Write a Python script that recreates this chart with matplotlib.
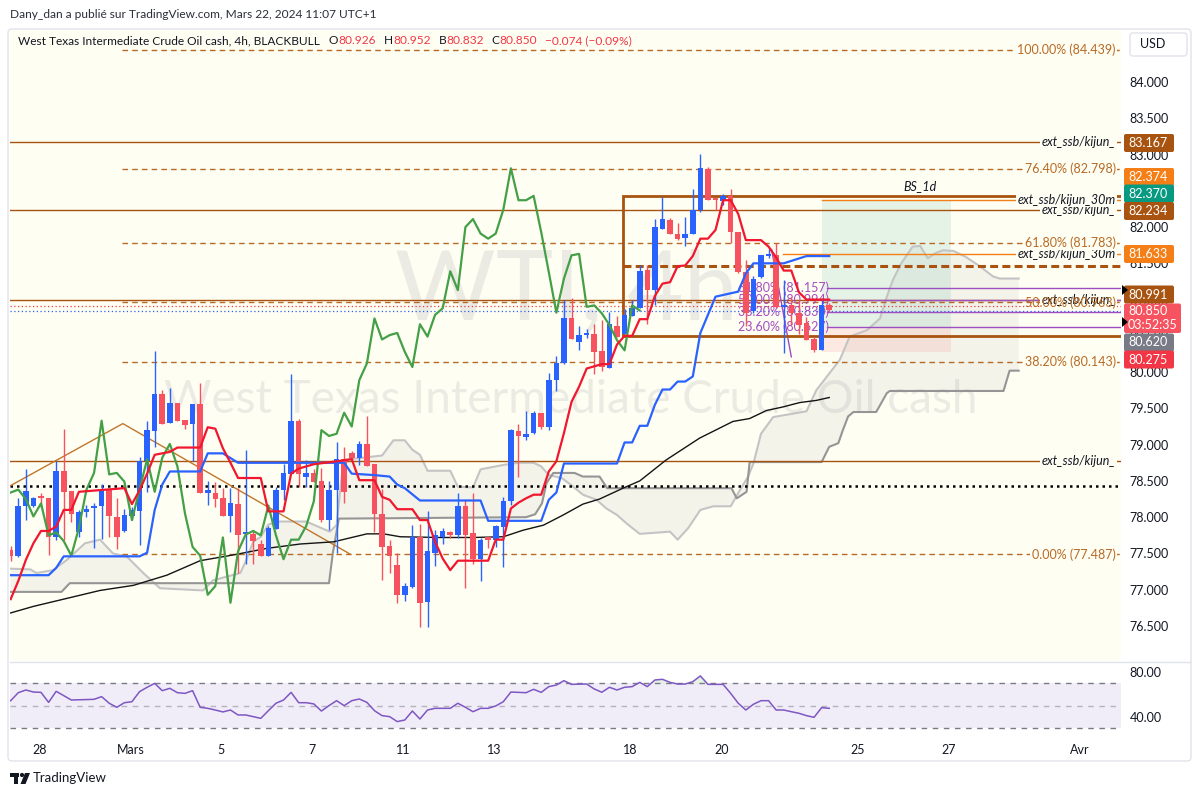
import numpy as np
import matplotlib
matplotlib.use('Agg')
import matplotlib.pyplot as plt
from matplotlib.patches import FancyBboxPatch, Rectangle, Polygon, Circle
from matplotlib.transforms import IdentityTransform

plt.rcParams['font.family'] = ['Lato', 'DejaVu Sans']

# ---------------- data (4h bars, index 0 = first visible bar) ----------------
opens = [77.55, 77.46, 78.16, 78.16, 78.29, 78.26, 77.72, 78.64, 78.36, 77.80,
         78.07, 78.12, 78.15, 78.38, 78.00, 77.81, 78.02, 78.09, 78.77, 79.19,
         79.70, 79.30, 79.57, 79.34, 79.28, 79.56, 78.34, 78.33, 78.26, 78.01,
         78.18, 77.77, 77.77, 77.63, 77.47, 77.84, 78.37, 78.59, 79.33, 78.56,
         78.61, 78.50, 77.96, 78.37, 78.80, 78.88, 78.82, 79.01, 78.73, 78.05,
         77.60, 77.34, 76.93, 77.04, 77.72, 76.83, 77.51, 77.72, 77.79, 77.75,
         78.16, 77.78, 77.42, 77.72, 77.69, 77.87, 78.22, 79.19, 79.11, 79.16,
         79.44, 79.25, 79.89, 80.12, 80.74, 80.42, 80.51, 80.53, 80.29, 80.05,
         80.64, 80.53, 80.77, 80.89, 81.41, 81.13, 81.98, 82.10, 81.91, 81.85,
         81.91, 82.23, 82.80, 82.40, 82.36, 82.43, 81.93, 81.38, 80.84, 81.31,
         81.60, 81.61, 80.90, 80.92, 80.82, 80.68, 80.45, 80.30, 80.926]
highs = [77.60, 78.26, 78.66, 78.28, 78.33, 78.26, 78.78, 79.22, 78.36, 78.10,
         78.17, 78.19, 78.46, 78.38, 78.26, 78.11, 78.14, 78.83, 79.32, 80.29,
         79.76, 79.78, 79.57, 79.34, 79.56, 79.85, 78.50, 78.48, 78.40, 78.40,
         78.40, 78.93, 77.82, 77.69, 77.88, 78.41, 78.74, 79.98, 79.35, 78.79,
         78.66, 78.68, 78.50, 79.04, 78.97, 78.91, 79.05, 79.40, 78.73, 78.39,
         77.69, 77.50, 77.09, 77.89, 77.90, 78.09, 77.83, 77.85, 77.81, 78.33,
         78.24, 78.33, 77.71, 77.74, 77.89, 78.28, 79.22, 79.28, 79.46, 79.46,
         79.44, 79.99, 80.22, 81.00, 81.02, 80.63, 80.60, 80.67, 80.72, 80.83,
         80.77, 80.87, 81.00, 81.48, 81.48, 82.11, 82.42, 82.12, 82.05, 82.14,
         82.53, 83.01, 82.83, 82.40, 82.46, 82.53, 81.93, 81.55, 81.32, 81.61,
         81.70, 81.78, 81.27, 81.04, 80.99, 80.76, 80.49, 81.02, 80.952]
lows = [77.40, 77.45, 77.96, 78.14, 78.14, 77.48, 77.69, 77.69, 77.94, 77.72,
        78.00, 77.58, 77.70, 77.72, 77.56, 77.79, 77.96, 77.62, 78.35, 78.97,
        79.28, 79.30, 79.32, 79.22, 78.77, 78.34, 78.17, 78.14, 78.01, 77.79,
        77.23, 77.35, 77.36, 77.46, 77.47, 77.84, 78.24, 78.59, 78.42, 78.42,
        78.49, 77.94, 77.82, 77.50, 78.19, 78.79, 78.72, 78.70, 77.80, 77.13,
        77.23, 76.81, 76.85, 77.03, 76.49, 76.49, 77.32, 77.63, 77.71, 77.71,
        77.03, 77.36, 77.12, 77.57, 77.59, 77.31, 78.17, 78.56, 79.06, 79.15,
        79.22, 79.20, 79.74, 80.11, 80.45, 80.31, 80.47, 79.98, 80.01, 80.05,
        80.49, 80.52, 80.77, 80.89, 80.67, 80.92, 81.98, 81.90, 81.82, 81.74,
        81.91, 82.21, 82.37, 82.23, 82.30, 81.78, 81.36, 80.63, 80.81, 81.30,
        81.58, 80.88, 80.26, 80.65, 80.53, 80.44, 80.28, 80.30, 80.832]
closes = [77.46, 78.15, 78.36, 78.26, 78.27, 77.72, 78.64, 78.35, 78.05, 78.07,
          78.11, 78.15, 78.36, 78.01, 77.73, 78.03, 78.10, 78.77, 79.20, 79.70,
          79.28, 79.57, 79.33, 79.27, 79.56, 78.34, 78.38, 78.25, 78.01, 78.19,
          77.75, 77.79, 77.67, 77.47, 77.85, 78.38, 78.61, 79.33, 78.59, 78.61,
          78.49, 77.96, 78.38, 78.80, 78.35, 78.82, 79.01, 78.70, 78.05, 77.59,
          77.47, 76.93, 77.05, 77.72, 76.82, 77.53, 77.76, 77.81, 77.75, 78.16,
          77.75, 77.42, 77.69, 77.69, 77.88, 78.22, 79.20, 79.12, 79.15, 79.44,
          79.25, 79.89, 80.12, 80.74, 80.45, 80.51, 80.54, 80.28, 80.07, 80.66,
          80.49, 80.79, 80.88, 81.39, 81.13, 82.00, 82.11, 81.91, 81.84, 81.91,
          82.24, 82.81, 82.37, 82.37, 82.43, 81.93, 81.38, 80.82, 81.29, 81.61,
          81.63, 80.90, 80.92, 80.81, 80.65, 80.44, 80.30, 80.92, 80.850]

# Ichimoku lines: (bar, price)
tenkan_x = [0, 1, 2, 3, 4, 5, 6, 7, 8, 9, 15, 16, 17, 18, 19, 21, 22, 25, 26, 27, 28, 29, 30, 33, 34, 36,
            37, 38, 40, 43, 45, 46, 48, 49, 50, 51, 53, 54, 55, 56, 57, 58, 59, 63, 64, 65, 66, 67, 68,
            69, 70, 71, 72, 73, 74, 75, 76, 77, 78, 79, 80, 81, 82, 83, 84, 85, 86, 87, 88, 89, 90, 91,
            92, 93, 94, 95, 96, 97, 99, 100, 101, 102, 103, 104, 105, 108]
tenkan_y = [76.87, 77.12, 77.41, 77.64, 77.81, 77.81, 77.87, 78.10, 78.10, 78.35, 78.40, 78.18, 78.37,
            78.60, 78.86, 78.90, 78.96, 78.96, 79.24, 79.22, 78.95, 78.75, 78.54, 78.54, 78.08, 78.08,
            78.60, 78.67, 78.73, 78.77, 78.80, 78.51, 78.51, 78.28, 78.24, 78.11, 78.11, 77.96, 77.96,
            77.66, 77.43, 77.27, 77.40, 77.40, 77.69, 77.69, 78.12, 78.20, 78.26, 78.31, 78.31, 78.63,
            78.77, 79.16, 79.59, 79.80, 80.05, 80.08, 80.11, 80.11, 80.38, 80.50, 80.50, 80.73, 80.73,
            81.05, 81.22, 81.24, 81.46, 81.47, 81.60, 81.84, 81.84, 81.96, 82.37, 82.37, 82.18, 81.82,
            81.82, 81.73, 81.58, 81.40, 81.40, 81.10, 81.00, 81.00]
kijun_x = [0, 5, 6, 7, 17, 18, 19, 20, 21, 25, 26, 28, 30, 44, 45, 48, 50, 51, 52, 54, 62, 63, 70, 71,
           72, 73, 80, 81, 82, 83, 84, 85, 86, 87, 88, 89, 90, 91, 93, 96, 97, 98, 102, 105, 108]
kijun_y = [77.20, 77.20, 77.30, 77.46, 77.46, 77.51, 78.10, 78.45, 78.63, 78.63, 78.88, 78.88, 78.75,
           78.75, 78.60, 78.58, 78.56, 78.45, 78.40, 78.23, 78.23, 77.95, 77.95, 78.24, 78.34, 78.74,
           78.74, 79.03, 79.03, 79.26, 79.26, 79.55, 79.76, 79.76, 79.87, 79.87, 79.94, 80.54, 81.04,
           81.11, 81.36, 81.50, 81.50, 81.60, 81.60]
span_a_x = [0, 2.6, 3.4, 5.6, 7.4, 9.8, 11.8, 13.5, 15.3, 17.5, 19.7, 25.4, 26.7, 30.3, 31, 32, 33,
            34, 35.5, 39, 42.1, 43, 43.9, 49, 50.5, 52, 53, 54, 55, 58, 59, 61, 62, 63, 65, 67, 69, 70,
            71, 72.7, 74, 75.5, 77.3, 78.6, 80, 81.3, 83, 87, 88, 89.4, 91, 92.7, 95, 96.2, 97.3, 98,
            99, 100.6, 105, 106.3, 108, 109.4, 110.7, 113, 114.7, 115.6, 116.4, 117.5, 119, 120, 121,
            122, 123, 124.4, 126, 128, 129.6, 130.5, 133]
span_a_y = [77.29, 77.28, 77.23, 77.27, 77.41, 77.64, 77.69, 77.50, 77.46, 77.23, 77.02, 76.99, 77.13,
            77.23, 77.39, 77.66, 77.73, 77.90, 77.94, 77.94, 77.80, 77.89, 78.79, 78.85, 79.06, 79.06,
            78.93, 78.86, 78.64, 78.64, 78.42, 78.41, 78.66, 78.68, 78.72, 78.75, 78.75, 78.70, 78.58,
            78.54, 78.44, 78.31, 78.24, 78.12, 78.03, 77.91, 77.77, 77.80, 77.69, 77.85, 78.10, 78.15,
            78.15, 78.37, 78.56, 78.74, 79.15, 79.38, 79.46, 79.75, 79.98, 80.17, 80.49, 80.58, 80.74,
            81.04, 81.27, 81.50, 81.73, 81.74, 81.57, 81.64, 81.68, 81.67, 81.59, 81.45, 81.32, 81.29,
            81.29]
span_b_x = [0, 6.7, 7.8, 42, 42.5, 43.3, 68, 69.2, 70.1, 70.7, 71.6, 74.4, 75.5, 77.7, 78.7, 95.1,
            95.8, 97.1, 97.5, 107, 108, 109.2, 109.8, 110.5, 111.2, 114.2, 115.6, 116, 131, 131.8, 133]
span_b_y = [76.97, 76.97, 77.09, 77.09, 77.50, 77.98, 78.00, 78.04, 78.19, 78.47, 78.61, 78.61, 78.56,
            78.56, 78.40, 78.40, 78.26, 78.35, 78.76, 78.76, 78.97, 79.02, 79.20, 79.39, 79.45, 79.45,
            79.71, 79.74, 79.74, 80.02, 80.02]
ma_x = [0, 3, 7.4, 11.8, 16.2, 20.6, 25, 29.4, 33.8, 38.2, 42.6, 47, 49.2, 51.4, 56.6, 61, 65, 67.6,
        70.3, 72.9, 75.5, 77.7, 80.8, 83, 86.5, 90.9, 95.3, 97.5, 99.7, 101.9, 104.1, 106.3, 108]
ma_y = [76.68, 76.77, 76.88, 76.99, 77.06, 77.20, 77.40, 77.48, 77.57, 77.63, 77.66, 77.77, 77.77,
        77.73, 77.72, 77.72, 77.73, 77.82, 77.89, 78.03, 78.18, 78.25, 78.40, 78.50, 78.79, 79.09,
        79.32, 79.36, 79.47, 79.52, 79.58, 79.61, 79.65]
chikou_shift = 25

rsi = [54.5, 61.6, 64.0, 62.2, 61.9, 53.0, 62.8, 59.0, 55.1, 55.3,
       55.5, 55.7, 58.1, 52.2, 48.6, 52.7, 53.6, 62.5, 66.4, 69.9,
       63.4, 65.5, 61.6, 61.0, 63.4, 48.6, 47.7, 46.2, 44.5, 46.2,
       41.8, 41.8, 40.3, 38.8, 45.6, 52.2, 55.1, 61.9, 52.7, 52.7,
       51.6, 45.3, 50.1, 54.5, 50.1, 54.5, 56.0, 53.0, 45.6, 41.2,
       40.3, 35.9, 37.3, 45.3, 38.2, 46.2, 47.7, 47.7, 47.7, 52.2,
       48.6, 44.7, 47.7, 47.7, 49.8, 53.6, 62.2, 61.9, 61.6, 64.6,
       61.9, 67.0, 68.4, 72.3, 69.0, 69.2, 69.3, 64.9, 62.0, 66.4,
       64.0, 66.4, 67.0, 70.8, 67.0, 72.9, 73.5, 70.8, 69.3, 69.3,
       71.4, 76.5, 69.0, 69.0, 69.0, 61.0, 52.2, 46.2, 51.3, 54.5,
       54.5, 46.2, 46.2, 44.7, 43.3, 41.2, 39.7, 48.3, 47.7]

date_pos = [3.8, 15.8, 27.8, 39.8, 51.8, 63.8, 81.8, 93.8, 111.8, 123.8, 141.0]
date_labels = ['28', 'Mars', '5', '7', '11', '13', '18', '20', '25', '27', 'Avr']

# drawings
ext_levels = [83.167, 82.234, 80.991, 78.771]          # brown, full width
ext30_levels = [82.374, 81.633]                        # orange
ext30_start = [107.1, 101.9]
fib_pct = ['100.00%', '76.40%', '61.80%', '50.00%', '38.20%', '0.00%']
fib_val = [84.439, 82.798, 81.783, 80.963, 80.143, 77.487]
fib_start = 14.7
small_fib_pct = ['61.80%', '50.00%', '38.20%', '23.60%']
small_fib_val = [81.157, 80.994, 80.830, 80.627]
small_fib_line_x = [100.4, 103.0]
small_fib_line_y = [81.69, 80.21]
trend_x = [-0.1, 14.8, 44.8]
trend_y = [78.43, 79.29, 77.49]
box_left, box_top, box_bottom = 80.8, 82.428, 80.498
dotted_black = 78.43
ask_price, bid_price = 80.91, 80.848
pos_left, pos_right = 107.1, 124.1
pos_target, pos_entry, pos_stop = 82.370, 80.620, 80.275

# ---------------- figure ----------------
W, H = 1201, 797
fig = plt.figure(figsize=(W / 100, H / 100), dpi=100, facecolor='white')
BG = '#fffef3'
TXT = '#131722'
BROWN = '#a8530f'
ORANGE = '#f57f17'
FIBC = '#b86a24'
UP, DOWN = '#2962ff', '#f7525f'


def rect(x0, y0, x1, y1):
    return [x0 / W, 1 - y1 / H, (x1 - x0) / W, (y1 - y0) / H]


def px_box(x0, y0, x1, y1, r=3, **kw):
    p = FancyBboxPatch((x0, H - y1), x1 - x0, y1 - y0,
                       boxstyle='round,pad=0,rounding_size=%g' % r,
                       transform=IdentityTransform(), **kw)
    fig.add_artist(p)


def px_text(x, y, s, **kw):
    return fig.text(x / W, 1 - y / H, s, **kw)


# outer frame
px_box(8, 29, 1191, 761, r=4, fc='none', ec='#e0e3eb', lw=1, zorder=0)

ax = fig.add_axes(rect(10, 30, 1121, 661))
rax = fig.add_axes(rect(10, 662, 1121, 737))
for a in (ax, rax):
    for s in a.spines.values():
        s.set_visible(False)
    a.set_xlim(-0.09, 146.5)
ax.set_ylim(76.017, 84.717)
rax.set_ylim(22.2, 88.9)
ax.set_facecolor(BG)
rax.set_facecolor('white')

ax.yaxis.tick_right()
yt = np.arange(76.5, 84.01, 0.5)
ax.set_yticks(yt)
ax.set_yticklabels(['%.3f' % v for v in yt])
ax.tick_params(axis='y', length=0, pad=6, labelsize=9, labelcolor=TXT)
ax.set_xticks([])

rax.yaxis.tick_right()
rax.set_yticks([40, 80])
rax.set_yticklabels(['40.00', '80.00'])
rax.tick_params(axis='y', length=0, pad=6, labelsize=9, labelcolor=TXT)
rax.set_xticks(date_pos)
rax.set_xticklabels(date_labels)
rax.tick_params(axis='x', length=0, pad=5, labelsize=9, labelcolor=TXT)

# watermark
ax.text(0.501, 0.583, 'WTI, 4h', transform=ax.transAxes, fontsize=70, color='#787b86',
        alpha=0.14, ha='center', va='center', zorder=0.2)
ax.text(0.505, 0.414, 'West Texas Intermediate Crude Oil cash', transform=ax.transAxes,
        fontsize=33, color='#787b86', alpha=0.14, ha='center', va='center', zorder=0.2)

bars = np.arange(len(closes))
o = np.array(opens); h = np.array(highs); l = np.array(lows); c = np.array(closes)

# cloud
ax.fill(np.r_[span_a_x, span_b_x[::-1]], np.r_[span_a_y, span_b_y[::-1]],
        color='#787b86', alpha=0.08, lw=0, zorder=0.5)
ax.plot(span_a_x, span_a_y, color='#c4c4c4', lw=1.5, zorder=0.8)
ax.plot(span_b_x, span_b_y, color='#959595', lw=1.5, zorder=0.8)

# position box
ax.add_patch(Rectangle((pos_left, pos_entry), pos_right - pos_left, pos_target - pos_entry,
                       fc='#089981', alpha=0.1, lw=0, zorder=0.4))
ax.add_patch(Rectangle((pos_left, pos_stop), pos_right - pos_left, pos_entry - pos_stop,
                       fc='#f23645', alpha=0.1, lw=0, zorder=0.4))

# horizontal levels
for v in ext_levels:
    ax.axhline(v, color=BROWN, lw=1, zorder=1)
for v, x0 in zip(ext30_levels, ext30_start):
    ax.plot([x0, 150], [v, v], color=ORANGE, lw=1, zorder=1)
for v in fib_val:
    ax.plot([fib_start, 150], [v, v], color=FIBC, lw=1, ls=(0, (4, 3)), zorder=1)
ax.axhline(dotted_black, color='black', lw=1.8, ls=(0, (1, 1.6)), zorder=1)
ax.axhline(ask_price, color='#f23645', lw=0.9, ls=(0, (1, 2)), zorder=1)
ax.axhline(bid_price, color='#2962ff', lw=0.9, ls=(0, (1, 2)), zorder=1)
for v in small_fib_val:
    ax.plot([107.7, 150], [v, v], color='#9c4fc0', lw=1, zorder=1)
ax.plot(small_fib_line_x, small_fib_line_y, color='#9c4fc0', lw=1, zorder=1)
ax.plot(trend_x, trend_y, color='#c0762b', lw=1, zorder=1)

# BS_1d box
ax.plot([150, box_left, box_left, 150], [box_top, box_top, box_bottom, box_bottom],
        color=BROWN, lw=2, zorder=1.2, solid_joinstyle='miter')
ax.plot([box_left, 150], [(box_top + box_bottom) / 2] * 2, color=BROWN, lw=2.2,
        ls=(0, (2.6, 1.4)), zorder=1.2)
ax.text(120, 82.57, 'BS_1d', fontsize=9, style='italic', color=TXT, ha='center', va='center')

# small fib labels sit under the candles
for p, v in zip(small_fib_pct, small_fib_val):
    ax.text(95.9, v, '%s (%.3f)' % (p, v), fontsize=9, color='#a64dbf', ha='left',
            va='center', zorder=2.5)

# black MA
ax.plot(ma_x, ma_y, color='#141414', lw=1, zorder=2)

# candles
up = c >= o
col = np.where(up, UP, DOWN)
ax.vlines(bars, l, h, colors=col, lw=1, zorder=3)
body_h = np.maximum(np.abs(c - o), 0.012)
ax.bar(bars, body_h, bottom=np.minimum(o, c), width=0.74, color=col, lw=0, zorder=3.1)

# ichimoku lines
ax.plot(bars[:-chikou_shift], c[chikou_shift:], color='#43a047', lw=1.6, zorder=4)
ax.plot(kijun_x, kijun_y, color='#2962ff', lw=1.6, zorder=4)
ax.plot(tenkan_x, tenkan_y, color='#f0172e', lw=1.6, zorder=4)

# labels on the right side of the chart
lab_x = 145.8
for v in ext_levels:
    ax.text(lab_x, v, 'ext_ssb/kijun_', fontsize=9, style='italic', color=TXT, ha='right',
            va='center', zorder=6, bbox=dict(fc=BG, ec='none', pad=1))
for v in ext30_levels:
    ax.text(lab_x, v, 'ext_ssb/kijun_30m', fontsize=9, style='italic', color=TXT,
            ha='right', va='center', zorder=6, bbox=dict(fc=BG, ec='none', pad=1))
for p, v in zip(fib_pct, fib_val):
    kw = {} if p == '50.00%' else dict(bbox=dict(fc=BG, ec='none', pad=1))
    ax.text(lab_x, v, '%s (%.3f)' % (p, v), fontsize=9, color=FIBC, ha='right',
            va='center', zorder=6, **kw)

# RSI panel
rax.axhspan(30, 70, color='#7e57c2', alpha=0.1, lw=0)
rax.axhline(70, color='#787b86', lw=1, ls=(0, (4, 4)))
rax.axhline(30, color='#787b86', lw=1, ls=(0, (4, 4)))
rax.axhline(50, color='#787b86', lw=1, ls=(0, (4, 4)), alpha=0.5)
r = np.array(rsi)
rax.fill_between(bars, r, 70, where=r > 70, interpolate=True, color='#4caf50', alpha=0.15, lw=0)
rax.plot(bars, r, color='#7e57c2', lw=1.1)

# panel separator
fig.add_artist(plt.Line2D([10 / W, 1191 / W], [1 - 661.5 / H] * 2, color='#e0e3eb', lw=1))

# price tags
tags = [('83.167', 143, BROWN), ('82.374', 177, ORANGE), ('82.370', 193.5, '#089981'),
        ('82.234', 211, BROWN), ('81.633', 254, ORANGE), ('80.991', 294.5, BROWN),
        ('80.620', 342.5, '#787b86'), ('80.275', 359.5, '#f23645')]
for s, yc, colr in tags:
    px_box(1124, yc - 9, 1174, yc + 9, r=2, fc=colr, ec='none', zorder=2)
    px_text(1128, yc, s, fontsize=9, color='white', va='center', ha='left', zorder=3)
px_box(1124, 303.5, 1181, 333, r=2, fc='#f7525f', ec='none', zorder=2)
px_text(1128, 311.5, '80.850', fontsize=9, color='white', va='center', zorder=3)
px_text(1128, 325, '03:52:35', fontsize=9, color='white', va='center', zorder=3)
for yc in (290, 322):
    fig.add_artist(Polygon([[1122, H - yc + 5], [1128, H - yc], [1122, H - yc - 5]],
                           closed=True, fc='black', ec='none', transform=IdentityTransform(),
                           zorder=4))

# USD box
px_box(1130, 33, 1187, 56, r=3, fc='white', ec='#e0e3eb', lw=1, zorder=2)
px_text(1140, 44.5, 'USD', fontsize=9, color=TXT, va='center', zorder=3)

# header and legend
px_text(10, 15, 'Dany_dan a publié sur TradingView.com, Mars 22, 2024 11:07 UTC+1',
        fontsize=8.6, color='#2a2e39', va='center')
ren = fig.canvas.get_renderer()
RED = '#f23645'
pieces = [('West Texas Intermediate Crude Oil cash, 4h, BLACKBULL', TXT, 9),
          ('O', TXT, 0), ('80.926', RED, 8), ('H', TXT, 0), ('80.952', RED, 8),
          ('B', TXT, 0), ('80.832', RED, 8), ('C', TXT, 0), ('80.850', RED, 8),
          ('\u22120.074 (\u22120.09%)', RED, 0)]
xx = 18
for s, colr, gap in pieces:
    t = px_text(xx, 41, s, fontsize=8.6, color=colr, va='center', zorder=5)
    xx += t.get_window_extent(renderer=ren).width + gap

# TradingView logo
fig.add_artist(Rectangle((10, H - 777), 9, 4, fc=TXT, ec='none', transform=IdentityTransform()))
fig.add_artist(Rectangle((13.5, H - 784), 4, 9, fc=TXT, ec='none', transform=IdentityTransform()))
fig.add_artist(Circle((22, H - 775), 2.1, fc=TXT, ec='none', transform=IdentityTransform()))
fig.add_artist(Polygon([[25, H - 773], [30, H - 773], [25.5, H - 784], [20.5, H - 784]],
                       closed=True, fc=TXT, ec='none', transform=IdentityTransform()))
px_text(33, 778.5, 'TradingView', fontsize=9.5, color=TXT, va='center')

fig.savefig('out.png', dpi=100, facecolor='white')
